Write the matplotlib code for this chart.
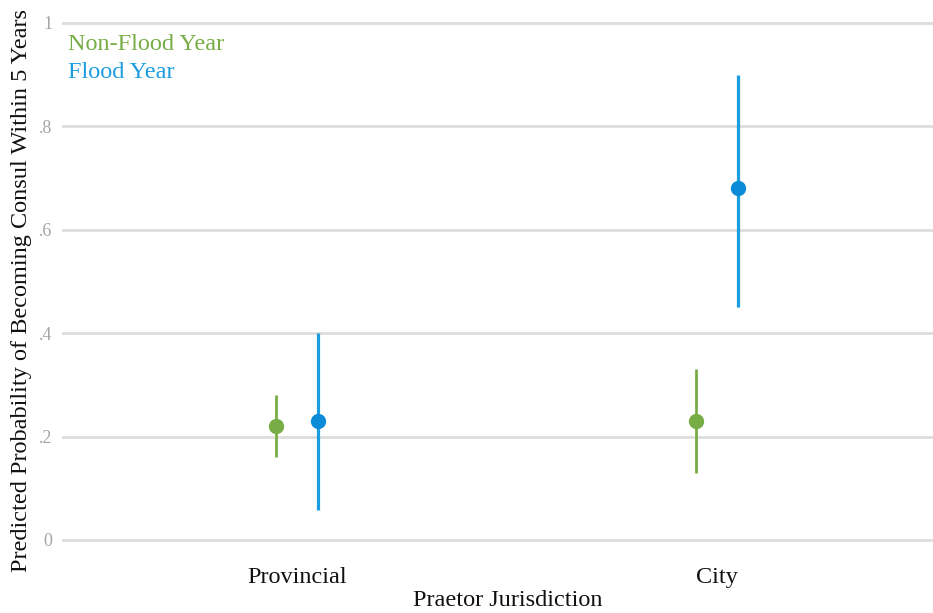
import matplotlib.pyplot as plt
import numpy as np

plt.rcParams['font.family'] = ['Liberation Serif', 'DejaVu Serif']

# predicted probabilities with confidence bounds
jurisdictions = ['Provincial', 'City']
non_flood_est = [0.22, 0.23]
non_flood_lo = [0.16, 0.13]
non_flood_hi = [0.28, 0.33]
flood_est = [0.23, 0.68]
flood_lo = [0.058, 0.45]
flood_hi = [0.40, 0.90]

green = '#77ad44'
blue = '#1b9ddf'
blue_dot = '#0b8bd8'

fig = plt.figure(figsize=(9.33, 6.13), dpi=100)
ax = fig.add_axes([62 / 933, 0.0938, 1 - 62 / 933, 0.894])

x = np.arange(1, len(jurisdictions) + 1)
off = 0.05

ax.vlines(x - off, non_flood_lo, non_flood_hi, color=green, lw=2, zorder=3)
ax.plot(x - off, non_flood_est, 'o', color=green, ms=10, zorder=4)
ax.vlines(x + off, flood_lo, flood_hi, color=blue, lw=2.3, zorder=3)
ax.plot(x + off, flood_est, 'o', color=blue_dot, ms=10, zorder=4)

ax.set_xlim(0.44, 2.514)
ax.set_ylim(-0.03, 1.03)

yt = [0, 0.2, 0.4, 0.6, 0.8, 1]
ax.set_yticks(yt)
ax.set_yticklabels(['0', '.2', '.4', '.6', '.8', '1'], color='#a5a5a5', fontsize=13)
ax.set_xticks(x)
ax.set_xticklabels(jurisdictions, fontsize=17.5, color='#111111')
ax.tick_params(length=0, axis='y', pad=7)
ax.tick_params(length=0, axis='x', pad=8)

for v in yt:
    ax.axhline(v, color='#dddddd', lw=2, zorder=1)
for s in ax.spines.values():
    s.set_visible(False)

# axis titles placed on the figure
fig.text(22 / 933, 1 - 290 / 613, 'Predicted Probability of Becoming Consul Within 5 Years',
         rotation=90, ha='center', va='center', fontsize=17.5, color='#111111')
fig.text(508 / 933, 1 - 601 / 613, 'Praetor Jurisdiction',
         ha='center', va='center', fontsize=17.5, color='#111111')

# coloured text key in the top-left corner
fig.text(68 / 933, 1 - 44 / 613, 'Non-Flood Year', color=green, fontsize=17.5, va='center')
fig.text(68 / 933, 1 - 72 / 613, 'Flood Year', color=blue, fontsize=17.5, va='center')

fig.savefig('out.png', dpi=100)
